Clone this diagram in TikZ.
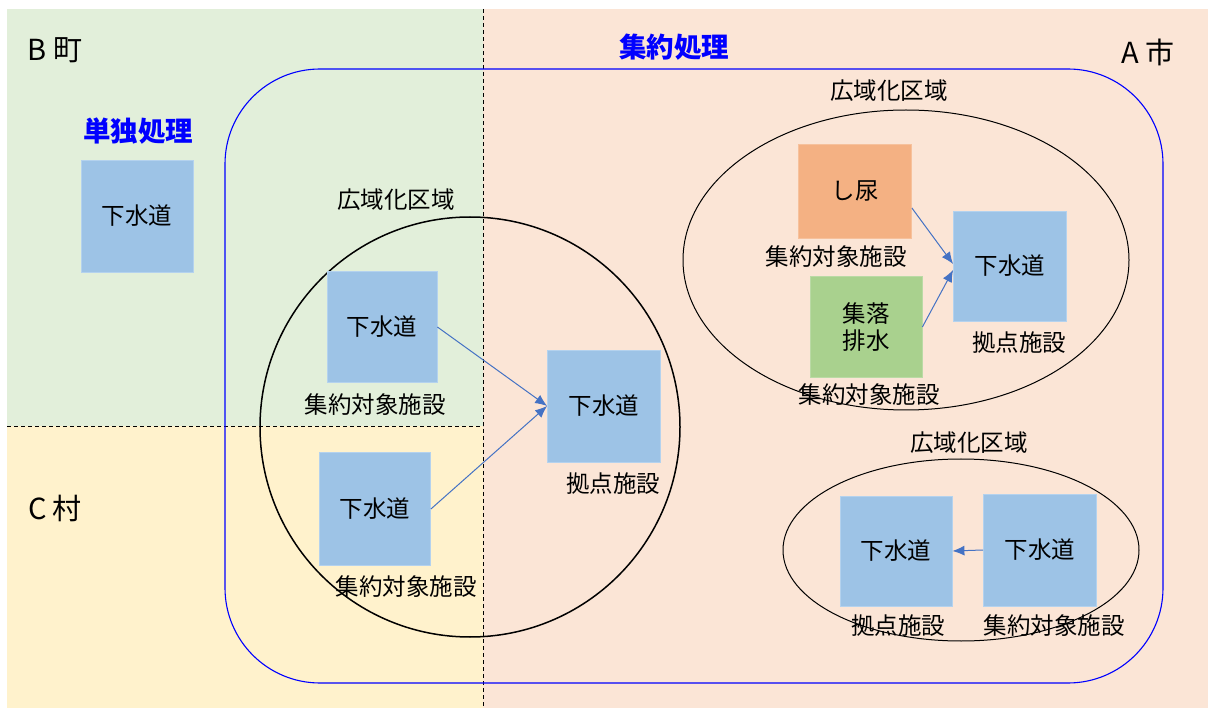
\documentclass[tikz,border=0pt]{standalone}
\usepackage{fontspec}
\setmainfont{Noto Sans CJK JP}
\usetikzlibrary{arrows.meta}
\definecolor{bgB}{HTML}{E2EFDA}
\definecolor{bgC}{HTML}{FFF2CC}
\definecolor{bgA}{HTML}{FBE5D6}
\definecolor{boxblue}{HTML}{9DC3E6}
\definecolor{boxline}{HTML}{B4D2EE}
\definecolor{boxorange}{HTML}{F4B183}
\definecolor{boxgreen}{HTML}{A9D18E}
\definecolor{arrblue}{HTML}{4472C4}
\begin{document}
\begin{tikzpicture}[x=1pt,y=-1pt,
    txt/.style={font=\fontsize{23.5}{27}\selectfont,inner sep=0pt},
    town/.style={font=\fontsize{29}{32}\selectfont,inner sep=0pt},
    title/.style={font=\fontsize{27.5}{30}\selectfont\bfseries,text=blue,inner sep=0pt},
    fac/.style={txt,fill=boxblue,draw=boxline,line width=0.8pt,minimum width=112pt,minimum height=112pt},
    arr/.style={draw=arrblue,line width=1pt,-{Latex[length=12pt,width=10pt]}},
    area/.style={draw=black,line width=1pt}]
            \useasboundingbox (0,0) rectangle (1208,708);

            % regioni di sfondo
            \fill[bgB] (7,9) rectangle (483,426);
            \fill[bgC] (7,426) rectangle (483,708);
            \fill[bgA] (483,9) rectangle (1208,708);
            \draw[line width=0.9pt,dash pattern=on 4pt off 3pt] (483,9) -- (483,708);
            \draw[line width=0.9pt,dash pattern=on 4pt off 3pt] (7,426) -- (483,426);

            \node[town] (B) at (55,50) {B 町};
            \node[town] (C) at (55,508) {C 村};
            \node[town] (A) at (1148,52) {A 市};

            \draw[blue,line width=1.1pt,rounded corners=95pt] (225,69) rectangle (1163,683);
            \node[title] (t1) at (138,131) {単独処理};
            \node[title] (t2) at (674,47) {集約処理};

            % etichette
            \node[txt] (z1) at (396,200) {広域化区域};
            \node[txt] (z2) at (889,91) {広域化区域};
            \node[txt] (z3) at (969,443) {広域化区域};

            \node[txt] (la) at (375,405) {集約対象施設};
            \node[txt] (lb) at (406,587) {集約対象施設};
            \node[txt] (lc) at (613,484) {拠点施設};
            \node[txt] (ld) at (836,257) {集約対象施設};
            \node[txt] (le) at (869,395) {集約対象施設};
            \node[txt] (lf) at (1019,343) {拠点施設};
            \node[txt] (lg) at (898,626) {拠点施設};
            \node[txt] (lh) at (1054,626) {集約対象施設};

            % cerchi
            \draw[area,line width=1.5pt] (470,427) circle (210);
            \draw[area] (906,260) ellipse (223 and 150);
            \draw[area] (961,550) ellipse (178 and 91);

            % impianti
            \node[fac] (s) at (137,216) {下水道};
            \node[fac,minimum width=110pt,minimum height=111pt] (a) at (382,327) {下水道};
            \node[fac,minimum width=111pt,minimum height=113pt] (b) at (375,509) {下水道};
            \node[fac,minimum width=113pt] (c) at (604,406) {下水道};
            \node[fac,fill=boxorange,draw=boxorange!80!white,minimum width=113pt,minimum height=94pt] (d) at (855,191) {し尿};
            \node[fac,fill=boxgreen,draw=boxgreen!80!white,align=center,minimum height=101pt] (e) at (866,327) {集落\\排水};
            \node[fac,minimum width=113pt,minimum height=110pt] (f) at (1010,266) {下水道};
            \node[fac,minimum height=110pt] (g) at (896,551) {下水道};
            \node[fac,minimum width=113pt] (h) at (1040,550) {下水道};

            % frecce
            \draw[arr] (a.east) -- (c.west);
            \draw[arr] (b.east) -- (c.west);
            \draw[arr] ([yshift=-17pt]d.east) -- ([yshift=2pt]f.west);
            \draw[arr] (e.east) -- ([yshift=-4pt]f.west);
            \draw[arr] (h.west) -- (g.east);
        \end{tikzpicture}
\end{document}
